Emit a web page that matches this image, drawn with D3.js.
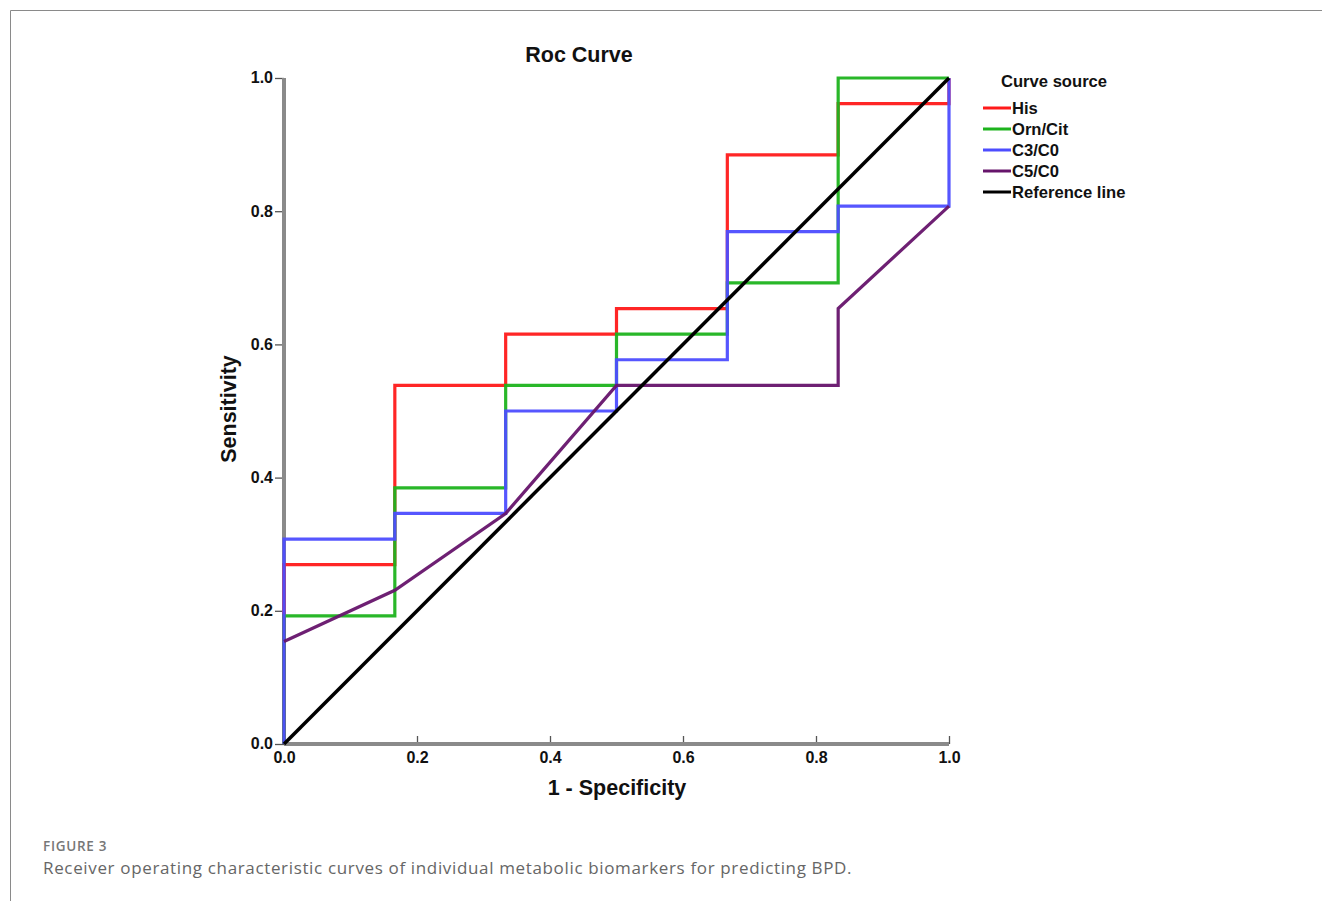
<!DOCTYPE html>
<html>
<head>
<meta charset="utf-8">
<script src="https://cdn.jsdelivr.net/npm/d3@7"></script>
<style>
  body { margin: 0; background: #fff; }
  svg { display: block; }
</style>
</head>
<body>
<svg id="chart" width="1322" height="901"></svg>
<script>
// ROC curve data: false positive rate (1 - specificity) and sensitivity
const fpr = [0, 1/6, 2/6, 3/6, 4/6, 5/6, 1];

const hisY  = [7/26, 14/26, 16/26, 17/26, 23/26, 25/26, 1];
const ornY  = [5/26, 10/26, 14/26, 16/26, 18/26, 1, 1];
const c3Y   = [8/26, 9/26, 13/26, 15/26, 20/26, 21/26, 1];
// C5/C0 is drawn as a polyline (points joined directly)
const c5X   = [0, 1/6, 2/6, 3/6, 5/6, 5/6, 1];
const c5Y   = [4/26, 6/26, 9/26, 14/26, 14/26, 17/26, 21/26];

const seriesNames  = ["His", "Orn/Cit", "C3/C0", "C5/C0", "Reference line"];
const seriesColors = ["#ff1a1a", "#1db31d", "#4d4dff", "#66146b", "#000000"];
const ticks = [0, 0.2, 0.4, 0.6, 0.8, 1.0];

// build step points: start at (0,0), go up at each x then across to next x
function stepPoints(ys){
    let pts = [[0, 0]];
    for (let i = 0; i < fpr.length; i++){
        pts.push([fpr[i], ys[i]]);
        if (i < fpr.length - 1) pts.push([fpr[i+1], ys[i]]);
    }
    return pts;
}

const svg = d3.select("#chart");
const margin = {left: 284, top: 78};
const w = 665, h = 666;

// figure frame
svg.append("path")
    .attr("d", "M10.5,901 L10.5,10.5 L1322,10.5")
    .attr("fill", "none")
    .attr("stroke", "#8a8a8a")
    .attr("stroke-width", 1);

const x = d3.scaleLinear().domain([0, 1]).range([0, w]);
const y = d3.scaleLinear().domain([0, 1]).range([h, 0]);

const g = svg.append("g")
    .attr("transform", "translate(" + margin.left + "," + margin.top + ")");

const font = "'Liberation Sans', Arial, sans-serif";

// axes
const xAxis = d3.axisBottom(x).tickValues(ticks).tickFormat(d3.format(".1f"))
    .tickSize(-8).tickPadding(8);
const yAxis = d3.axisLeft(y).tickValues(ticks).tickFormat(d3.format(".1f"))
    .tickSize(9).tickPadding(2);

const gx = g.append("g")
    .attr("transform", "translate(0," + h + ")")
    .call(xAxis);
const gy = g.append("g").call(yAxis);

[gx, gy].forEach(a => {
    a.select(".domain").remove();
    a.selectAll(".tick line").attr("stroke", "#555").attr("stroke-width", 1.3);
    a.selectAll(".tick text")
        .style("font-family", font)
        .style("font-weight", "bold")
        .style("font-size", "16px")
        .attr("fill", "#111");
});
gy.selectAll(".tick text").attr("dy", "0.3em");

// thick grey axis lines
g.append("line")
    .attr("x1", 0).attr("x2", 0).attr("y1", 0).attr("y2", h)
    .attr("stroke", "#8a8a8a").attr("stroke-width", 4);
g.append("line")
    .attr("x1", 0).attr("x2", w).attr("y1", h).attr("y2", h)
    .attr("stroke", "#8a8a8a").attr("stroke-width", 4);

const line = d3.line().x(d => x(d[0])).y(d => y(d[1]));

const curves = [
    stepPoints(hisY),
    stepPoints(ornY),
    stepPoints(c3Y),
    c5X.map((v, i) => [v, c5Y[i]]),
    [[0, 0], [1, 1]]
];

g.selectAll(".curve")
    .data(curves)
    .enter().append("path")
    .attr("class", "curve")
    .attr("d", line)
    .attr("fill", "none")
    .attr("stroke", (d, i) => seriesColors[i])
    .attr("stroke-width", (d, i) => i === 4 ? 3.5 : 3.2)
    .attr("stroke-linejoin", "miter")
    .attr("opacity", (d, i) => i === 4 ? 1 : 0.95);

function boldText(xp, yp, size, txt, anchor){
    return svg.append("text")
        .attr("x", xp).attr("y", yp)
        .attr("text-anchor", anchor || "start")
        .style("font-family", font).style("font-weight", "bold")
        .style("font-size", size + "px")
        .attr("fill", "#111")
        .text(txt);
}

// titles
boldText(579, 62, 21.5, "Roc Curve", "middle");
boldText(617, 795, 21.5, "1 - Specificity", "middle");
boldText(0, 0, 21.5, "Sensitivity", "middle")
    .attr("transform", "translate(236,409) rotate(-90)");

// legend
const legend = svg.append("g").attr("transform", "translate(983,0)");
legend.append("text")
    .attr("x", 18).attr("y", 87)
    .style("font-family", font).style("font-weight", "bold").style("font-size", "16.6px")
    .attr("fill", "#111")
    .text("Curve source");

const items = legend.selectAll(".item")
    .data(seriesNames)
    .enter().append("g")
    .attr("class", "item")
    .attr("transform", (d, i) => "translate(0," + (108 + i * 21) + ")");
items.append("line")
    .attr("x1", 0).attr("x2", 28).attr("y1", 0).attr("y2", 0)
    .attr("stroke", (d, i) => seriesColors[i])
    .attr("stroke-width", 3);
items.append("text")
    .attr("x", 29).attr("y", 6)
    .style("font-family", font).style("font-weight", "bold").style("font-size", "16.6px")
    .attr("fill", "#111")
    .text(d => d);

// caption
svg.append("text")
    .attr("x", 43).attr("y", 851)
    .style("font-family", "'Open Sans', sans-serif").style("font-size", "13.5px")
    .style("font-weight", 600)
    .attr("fill", "#777")
    .attr("letter-spacing", 0.7)
    .text("FIGURE 3");
svg.append("text")
    .attr("x", 43).attr("y", 874)
    .style("font-family", "'Open Sans', sans-serif").style("font-size", "17px")
    .attr("fill", "#666")
    .attr("letter-spacing", 0.65)
    .text("Receiver operating characteristic curves of individual metabolic biomarkers for predicting BPD.");
</script>
</body>
</html>
